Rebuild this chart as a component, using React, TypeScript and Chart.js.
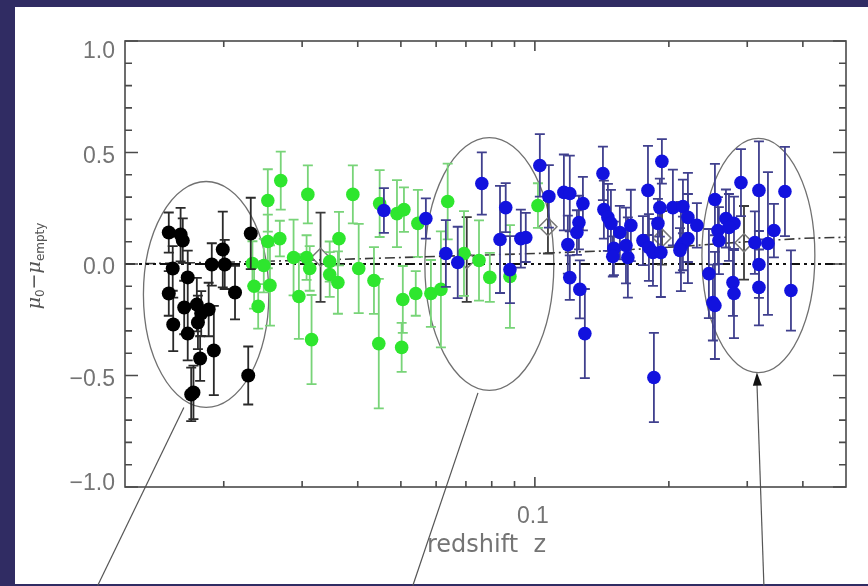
import React, { useEffect, useRef } from 'react';
import { Chart, registerables } from 'chart.js';
Chart.register(...registerables);

// ---------- data ----------
const blackZ = [0.01505, 0.016, 0.01618, 0.0199, 0.0188, 0.0201, 0.01536, 0.0166, 0.0212, 0.01505, 0.0163, 0.0174, 0.0185, 0.0178, 0.0175, 0.0154, 0.0166, 0.019, 0.0177, 0.0171, 0.0169, 0.0227, 0.023];
const blackDelta = [0.141, 0.132, 0.105, 0.065, -0.002, -0.002, -0.02, -0.06, -0.128, -0.132, -0.195, -0.182, -0.204, -0.222, -0.262, -0.271, -0.312, -0.388, -0.424, -0.576, -0.585, -0.5, 0.137];
const blackErr = [0.09, 0.12, 0.1, 0.17, 0.095, 0.11, 0.1, 0.12, 0.12, 0.1, 0.12, 0.12, 0.12, 0.1, 0.12, 0.12, 0.12, 0.2, 0.1, 0.12, 0.12, 0.13, 0.16];

const greenZ = [0.02686, 0.02512, 0.02512, 0.02673, 0.0309, 0.039, 0.0448, 0.049, 0.0508, 0.0546, 0.0363, 0.0287, 0.0307, 0.0312, 0.0346, 0.0346, 0.0361, 0.0232, 0.0246, 0.0234, 0.0254, 0.0239, 0.0295, 0.0315, 0.0402, 0.0435, 0.0446, 0.0505, 0.0502, 0.054, 0.0584, 0.0615, 0.0637, 0.0693, 0.0749, 0.0792, 0.0879, 0.1016];
const greenDelta = [0.374, 0.285, 0.101, 0.114, 0.312, 0.312, 0.271, 0.226, 0.244, 0.182, 0.114, 0.029, 0.029, -0.02, 0.011, -0.047, -0.083, 0.002, -0.007, -0.1, -0.096, -0.19, -0.146, -0.339, -0.02, -0.074, -0.357, -0.159, -0.374, -0.132, -0.132, -0.114, 0.28, 0.047, 0.016, -0.06, -0.056, 0.262];
const greenErr = [0.13, 0.14, 0.12, 0.08, 0.13, 0.13, 0.15, 0.15, 0.1, 0.15, 0.12, 0.17, 0.1, 0.1, 0.09, 0.1, 0.14, 0.1, 0.12, 0.1, 0.18, 0.1, 0.19, 0.2, 0.2, 0.15, 0.29, 0.15, 0.11, 0.1, 0.15, 0.26, 0.17, 0.19, 0.18, 0.11, 0.23, 0.1];

const blueZ = [0.0458, 0.0569, 0.0631, 0.0671, 0.076, 0.0835, 0.086, 0.0879, 0.093, 0.0954, 0.1026, 0.1075, 0.1162, 0.1198, 0.1282, 0.1256, 0.1243, 0.1186, 0.1198, 0.1262, 0.1295, 0.1422, 0.1429, 0.1459, 0.1482, 0.1552, 0.1643, 0.1505, 0.1497, 0.1602, 0.1618, 0.1795, 0.1929, 0.1749, 0.1804, 0.1842, 0.1919, 0.189, 0.1909, 0.1851, 0.2042, 0.2151, 0.2207, 0.2312, 0.2129, 0.2151, 0.2207, 0.2118, 0.246, 0.2512, 0.2538, 0.2538, 0.2578, 0.2591, 0.2687, 0.2801, 0.2729, 0.2786, 0.2801, 0.2904, 0.3187, 0.3121, 0.3187, 0.3187, 0.3339, 0.3444, 0.3646, 0.3761];
const blueDelta = [0.24, 0.204, 0.047, 0.007, 0.361, 0.11, 0.253, -0.025, 0.114, 0.119, 0.442, 0.303, 0.321, 0.316, 0.271, 0.186, 0.141, 0.087, -0.061, -0.114, -0.312, 0.406, 0.244, 0.209, 0.182, 0.141, 0.173, 0.07, 0.034, 0.083, 0.029, 0.33, 0.46, 0.105, 0.074, 0.052, 0.052, 0.182, 0.253, -0.509, 0.253, 0.258, 0.209, 0.173, 0.078, 0.092, 0.114, 0.061, -0.043, -0.173, -0.186, 0.289, 0.15, 0.105, 0.204, 0.182, 0.164, -0.083, -0.132, 0.365, 0.33, 0.096, -0.002, -0.105, 0.092, 0.15, 0.325, -0.119];
const blueErr = [0.1, 0.09, 0.15, 0.16, 0.14, 0.24, 0.11, 0.15, 0.13, 0.11, 0.14, 0.14, 0.17, 0.17, 0.12, 0.12, 0.1, 0.13, 0.1, 0.13, 0.2, 0.12, 0.13, 0.15, 0.15, 0.12, 0.16, 0.12, 0.09, 0.17, 0.18, 0.2, 0.1, 0.11, 0.15, 0.15, 0.2, 0.11, 0.13, 0.2, 0.17, 0.12, 0.2, 0.1, 0.2, 0.12, 0.2, 0.1, 0.2, 0.17, 0.24, 0.16, 0.15, 0.15, 0.13, 0.12, 0.15, 0.15, 0.2, 0.15, 0.22, 0.14, 0.15, 0.17, 0.32, 0.12, 0.2, 0.18];

const binZ = [0.033, 0.0703, 0.107, 0.193, 0.295];
const binDelta = [0.03, 0.02, 0.167, 0.117, 0.095];
const binErr = [0.2, 0.19, 0.12, 0.12, 0.165];

const modelZ = [0.012, 0.02, 0.03, 0.05, 0.07, 0.1, 0.15, 0.2, 0.3, 0.4, 0.5];
const modelDelta = [0.0, 0.008, 0.016, 0.029, 0.038, 0.047, 0.06, 0.075, 0.1, 0.115, 0.12];
const zeroZ = [0.012, 0.5];
const zeroDelta = [0, 0];

// ellipses and pointers (data units)
const ellipseZMin = [0.0132, 0.0566, 0.2373];
const ellipseZMax = [0.02525, 0.1103, 0.4256];
const ellipseTop = [0.37, 0.567, 0.563];
const ellipseBottom = [-0.643, -0.567, -0.487];
const pointerFromZ = [0.01627, 0.0745];
const pointerFromDelta = [-0.643, -0.578];
const pointerToZ = [0.01042, 0.0532];
const pointerToDelta = [-1.442, -1.442];
const arrowFromZ = 0.327;
const arrowFromDelta = -1.442;
const arrowToZ = 0.3154;
const arrowToDelta = -0.487;

// axes
const xMin = 0.012;
const xMax = 0.5;
const yMin = -1;
const yMax = 1;
const yMajorTicks = [-1, -0.5, 0, 0.5, 1];
const yTickLabels = ['\u22121.0', '\u22120.5', '0.0', '0.5', '1.0'];
const yMinorTicks = [-0.9, -0.8, -0.7, -0.6, -0.4, -0.3, -0.2, -0.1, 0.1, 0.2, 0.3, 0.4, 0.6, 0.7, 0.8, 0.9];
const xMajorTicks = [0.1];
const xTickLabels = ['0.1'];
const xMinorTicks = [0.02, 0.03, 0.04, 0.05, 0.06, 0.07, 0.08, 0.09, 0.2, 0.3, 0.4];
const xTitle = 'redshift  z';

const pts = (zs: number[], ds: number[]) => zs.map((z, i) => ({ x: z, y: ds[i] }));

const framePlugin = {
  id: 'frame',
  beforeDraw(chart: any) {
    const ctx = chart.ctx;
    ctx.save();
    ctx.fillStyle = '#302c63';
    ctx.fillRect(0, 0, chart.width, chart.height);
    ctx.fillStyle = '#ffffff';
    ctx.fillRect(15, 7, chart.width - 15, chart.height - 9);
    ctx.restore();
  },
  beforeDatasetsDraw(chart: any) {
    const ctx = chart.ctx;
    const xs = chart.scales.x;
    const ys = chart.scales.y;
    ctx.save();
    ctx.strokeStyle = '#707070';
    ctx.lineWidth = 1.3;
    for (let i = 0; i < ellipseZMin.length; i++) {
      const l = xs.getPixelForValue(ellipseZMin[i]);
      const r = xs.getPixelForValue(ellipseZMax[i]);
      const t = ys.getPixelForValue(ellipseTop[i]);
      const b = ys.getPixelForValue(ellipseBottom[i]);
      ctx.beginPath();
      ctx.ellipse((l + r) / 2, (t + b) / 2, (r - l) / 2, (b - t) / 2, 0, 0, Math.PI * 2);
      ctx.stroke();
    }
    ctx.restore();
  },
  beforeDatasetDraw(chart: any, args: any) {
    const ds = chart.data.datasets[args.index];
    if (!ds.errors) return;
    const ctx = chart.ctx;
    const xs = chart.scales.x;
    const ys = chart.scales.y;
    const ca = chart.chartArea;
    ctx.save();
    ctx.beginPath();
    ctx.rect(ca.left, ca.top, ca.right - ca.left, ca.bottom - ca.top);
    ctx.clip();
    ctx.strokeStyle = ds.errColor;
    ctx.lineWidth = 1.8;
    ds.data.forEach((p: any, i: number) => {
      const e = ds.errors[i];
      const px = xs.getPixelForValue(p.x);
      const y1 = ys.getPixelForValue(p.y + e);
      const y2 = ys.getPixelForValue(p.y - e);
      ctx.beginPath();
      ctx.moveTo(px, y1);
      ctx.lineTo(px, y2);
      ctx.moveTo(px - 5, y1);
      ctx.lineTo(px + 5, y1);
      ctx.moveTo(px - 5, y2);
      ctx.lineTo(px + 5, y2);
      ctx.stroke();
    });
    ctx.restore();
  },
  afterDatasetsDraw(chart: any) {
    const ctx = chart.ctx;
    const xs = chart.scales.x;
    const ys = chart.scales.y;
    const { left, right, top, bottom } = chart.chartArea;
    ctx.save();
    // pointer lines
    ctx.strokeStyle = '#555';
    ctx.lineWidth = 1.2;
    for (let i = 0; i < pointerFromZ.length; i++) {
      ctx.beginPath();
      ctx.moveTo(xs.getPixelForValue(pointerFromZ[i]), ys.getPixelForValue(pointerFromDelta[i]));
      ctx.lineTo(xs.getPixelForValue(pointerToZ[i]), ys.getPixelForValue(pointerToDelta[i]));
      ctx.stroke();
    }
    const ax0 = xs.getPixelForValue(arrowFromZ);
    const ay0 = ys.getPixelForValue(arrowFromDelta);
    const ax1 = xs.getPixelForValue(arrowToZ);
    const ay1 = ys.getPixelForValue(arrowToDelta);
    ctx.beginPath();
    ctx.moveTo(ax0, ay0);
    ctx.lineTo(ax1, ay1 + 10);
    ctx.stroke();
    const ang = Math.atan2(ay1 - ay0, ax1 - ax0);
    ctx.fillStyle = '#111';
    ctx.beginPath();
    ctx.moveTo(ax1, ay1);
    ctx.lineTo(ax1 - 13 * Math.cos(ang) + 4.5 * Math.sin(ang), ay1 - 13 * Math.sin(ang) - 4.5 * Math.cos(ang));
    ctx.lineTo(ax1 - 13 * Math.cos(ang) - 4.5 * Math.sin(ang), ay1 - 13 * Math.sin(ang) + 4.5 * Math.cos(ang));
    ctx.closePath();
    ctx.fill();

    // axes box
    ctx.strokeStyle = '#4a4a4a';
    ctx.lineWidth = 1.6;
    ctx.strokeRect(left, top, right - left, bottom - top);
    ctx.beginPath();
    const yt = (v: number, len: number) => {
      const py = ys.getPixelForValue(v);
      ctx.moveTo(left, py); ctx.lineTo(left + len, py);
      ctx.moveTo(right, py); ctx.lineTo(right - len, py);
    };
    const xt = (v: number, len: number) => {
      const px = xs.getPixelForValue(v);
      ctx.moveTo(px, bottom); ctx.lineTo(px, bottom - len);
      ctx.moveTo(px, top); ctx.lineTo(px, top + len);
    };
    yMajorTicks.forEach((v) => yt(v, 13));
    yMinorTicks.forEach((v) => yt(v, 7));
    xMajorTicks.forEach((v) => xt(v, 10));
    xMinorTicks.forEach((v) => xt(v, 6));
    ctx.stroke();

    // tick labels
    ctx.fillStyle = '#747474';
    ctx.font = '23px "Liberation Sans", Arial, sans-serif';
    ctx.textAlign = 'right';
    ctx.textBaseline = 'alphabetic';
    yMajorTicks.forEach((v, i) => {
      let cy = ys.getPixelForValue(v) + 2;
      cy = Math.max(top + 9, Math.min(bottom - 5, cy));
      ctx.fillText(yTickLabels[i], left - 10, cy + 8);
    });
    ctx.textAlign = 'center';
    xMajorTicks.forEach((v, i) => {
      ctx.fillText(xTickLabels[i], xs.getPixelForValue(v) - 2, bottom + 36);
    });
    // x title
    ctx.textAlign = 'left';
    ctx.font = '24px "DejaVu Sans", sans-serif';
    ctx.fillText(xTitle, 427, bottom + 65);

    // y title
    ctx.translate(40, (top + bottom) / 2 + 2);
    ctx.rotate(-Math.PI / 2);
    ctx.fillStyle = '#555';
    const parts = [
      { t: '\u03bc', f: 'italic 19px "DejaVu Serif", serif', dy: 0 },
      { t: '0', f: '12px "DejaVu Sans", sans-serif', dy: 4 },
      { t: '\u2212', f: '19px "DejaVu Sans", sans-serif', dy: 0 },
      { t: '\u03bc', f: 'italic 19px "DejaVu Serif", serif', dy: 0 },
      { t: 'empty', f: '12px "DejaVu Sans", sans-serif', dy: 4 },
    ];
    let total = 0;
    const widths = parts.map((p) => { ctx.font = p.f; const w = ctx.measureText(p.t).width; total += w; return w; });
    let cx = -total / 2;
    ctx.textAlign = 'left';
    parts.forEach((p, i) => {
      ctx.font = p.f;
      ctx.fillText(p.t, cx, p.dy);
      cx += widths[i];
    });
    ctx.restore();
  },
};

export default function App() {
  const ref = useRef<HTMLCanvasElement | null>(null);
  useEffect(() => {
    if (!ref.current) return;
    const chart = new Chart(ref.current, {
      type: 'scatter',
      data: {
        datasets: [
          { label: 'blue', data: pts(blueZ, blueDelta), errors: blueErr, errColor: '#40408e', backgroundColor: '#1212de', borderWidth: 0, pointRadius: 6.8, order: 1 } as any,
          { label: 'black', data: pts(blackZ, blackDelta), errors: blackErr, errColor: '#2a2a2a', backgroundColor: '#000000', borderWidth: 0, pointRadius: 7, order: 2 } as any,
          { label: 'green', data: pts(greenZ, greenDelta), errors: greenErr, errColor: '#78d478', backgroundColor: '#2ee62e', borderWidth: 0, pointRadius: 6.8, order: 3 } as any,
          { label: 'bins', data: pts(binZ, binDelta), errors: binErr, errColor: '#3a3a3a', pointStyle: 'rectRot', backgroundColor: 'rgba(0,0,0,0)', borderColor: '#777', borderWidth: 1.5, pointRadius: 9, order: 4 } as any,
          { type: 'line', label: 'zero', data: pts(zeroZ, zeroDelta), borderColor: '#111', borderWidth: 2, borderDash: [10, 4, 3, 4, 3, 4, 3, 4], pointRadius: 0, showLine: true, order: 5 } as any,
          { type: 'line', label: 'model', data: pts(modelZ, modelDelta), borderColor: '#3a3a3a', borderWidth: 1.6, borderDash: [10, 4, 2, 4], pointRadius: 0, showLine: true, tension: 0, order: 6 } as any,
        ],
      },
      options: {
        responsive: false,
        animation: false,
        layout: { padding: { left: 125, top: 41, right: 22, bottom: 99 } },
        plugins: { legend: { display: false }, tooltip: { enabled: false } },
        scales: {
          x: { type: 'logarithmic', min: xMin, max: xMax, bounds: 'data', display: false },
          y: { type: 'linear', min: yMin, max: yMax, display: false },
        },
      },
      plugins: [framePlugin],
    } as any);
    return () => chart.destroy();
  }, []);
  return (
    <div style={{ position: 'fixed', left: 0, top: 0, width: 868, height: 586 }}>
      <canvas ref={ref} width={868} height={586} style={{ display: 'block', width: 868, height: 586 }} />
    </div>
  );
}
